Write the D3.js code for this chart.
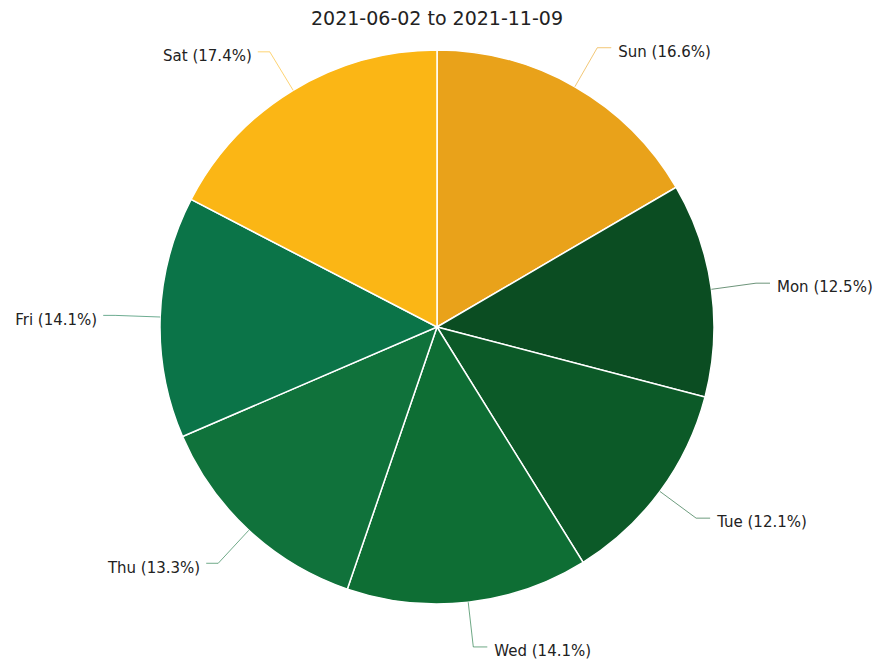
<!DOCTYPE html>
<html><head><meta charset="utf-8">
<script src="https://cdn.jsdelivr.net/npm/d3@7"></script>
<style>body{margin:0;background:#fff}svg{display:block}</style>
</head><body>
<svg id="c" width="878" height="662"></svg>
<script>
const title = "2021-06-02 to 2021-11-09";
const days = ["Sun","Mon","Tue","Wed","Thu","Fri","Sat"];
const shares = [16.6,12.5,12.1,14.1,13.3,14.1,17.4];
const colors = ["#e9a21a","#0b4d22","#0c5a28","#0e6e34","#10723b","#0b7448","#fbb615"];

const W=878,H=662, cx=437, cy=327, R=277;
const svg=d3.select("#c");
svg.append("text").attr("x",cx).attr("y",25).attr("text-anchor","middle")
  .attr("font-family","DejaVu Sans, sans-serif").attr("font-size",19).attr("fill","#222").text(title);

const data=days.map((d,i)=>({day:d,v:shares[i],c:colors[i]}));
const pie=d3.pie().value(d=>d.v).sort(null);
const arcs=pie(data);
const arc=d3.arc().innerRadius(0).outerRadius(R);
const g=svg.append("g").attr("transform",`translate(${cx},${cy})`);
g.selectAll("path.s").data(arcs).join("path").attr("class","s")
  .attr("d",arc).attr("fill",d=>d.data.c).attr("stroke","#fff").attr("stroke-width",1.5);

const pt=(a,r)=>[r*Math.sin(a), -r*Math.cos(a)];
arcs.forEach(d=>{
  const m=(d.startAngle+d.endAngle)/2;
  const p0=pt(m,R), p1=pt(m,R+45);
  const right=Math.sin(m)>=0;
  const p2=[p1[0]+(right?14:-12),p1[1]];
  g.append("path").attr("d",d3.line()([p0,p1,p2])).attr("fill","none")
    .attr("stroke",d.data.c).attr("stroke-opacity",0.6).attr("stroke-width",1);
  g.append("text").attr("x",p2[0]+(right?7:-6)).attr("y",p2[1]+4).attr("dy","0.35em")
    .attr("text-anchor",right?"start":"end")
    .attr("font-family","DejaVu Sans, sans-serif").attr("font-size",15).attr("fill","#222")
    .text(`${d.data.day} (${d.data.v.toFixed(1)}%)`);
});
</script>
</body></html>
